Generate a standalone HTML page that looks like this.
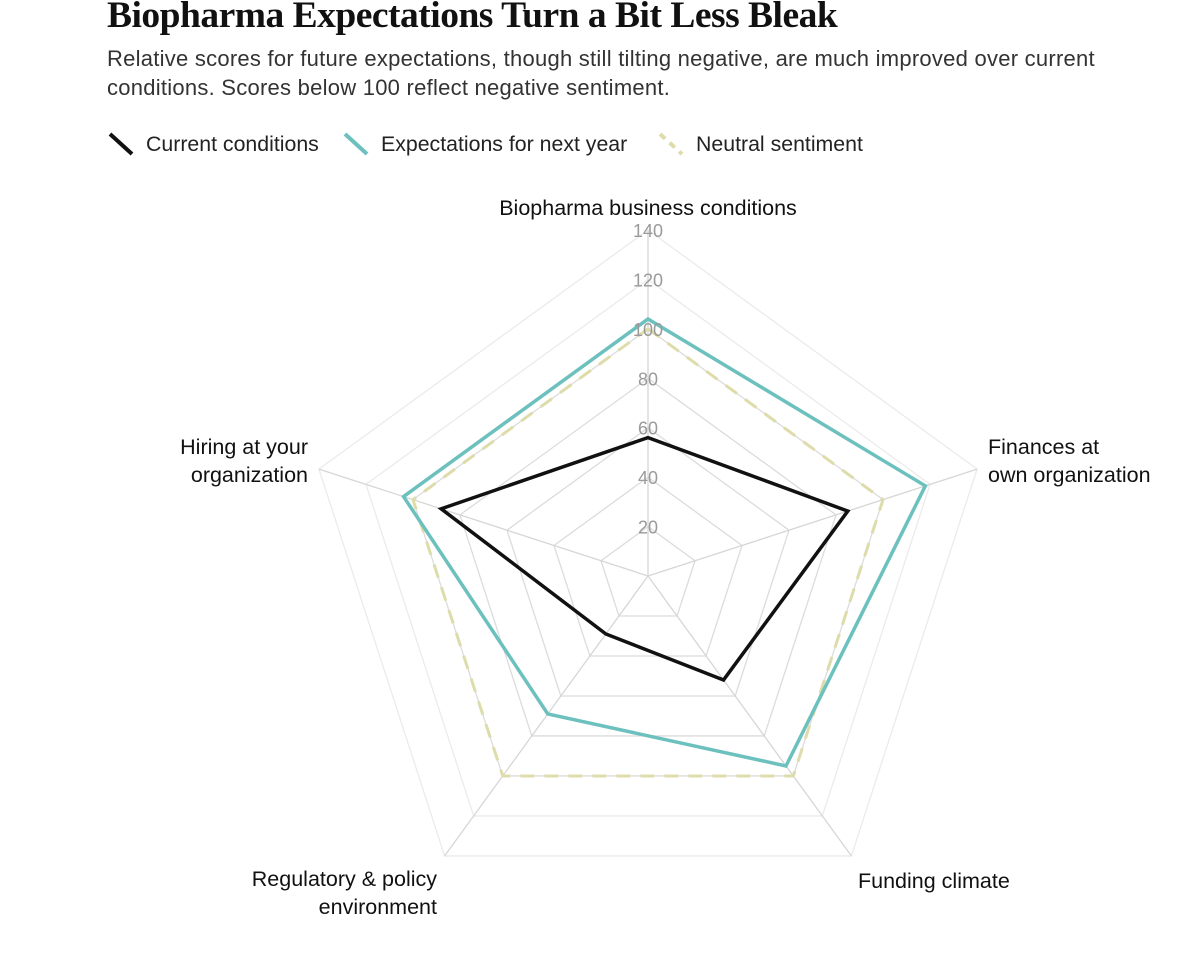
<!DOCTYPE html>
<html><head><meta charset="utf-8"><style>
body{margin:0;background:#fff;width:1200px;height:969px;overflow:hidden;font-family:"Liberation Sans",sans-serif;}
#title{position:absolute;left:107px;top:-6px;font-family:"Liberation Serif",serif;font-weight:bold;font-size:37.5px;color:#111;letter-spacing:-0.5px;margin:0;white-space:nowrap}
#sub{position:absolute;left:107px;top:44px;width:1060px;font-size:22px;letter-spacing:0.25px;line-height:29px;color:#333;margin:0}
</style></head><body>
<h1 id="title">Biopharma Expectations Turn a Bit Less Bleak</h1>
<p id="sub">Relative scores for future expectations, though still tilting negative, are much improved over current conditions. Scores below 100 reflect negative sentiment.</p>
<svg id="chart" width="1200" height="969" style="position:absolute;left:0;top:0"></svg>
<script>
const categories=["Biopharma business conditions","Finances at own organization","Funding climate","Regulatory & policy environment","Hiring at your organization"];
const currentValues=[56,85,52,29,88];
const expectValues=[104,118,95,69,104];
const neutralValues=[100,100,100,100,100];
const ticks=[20,40,60,80,100,120,140];
const cx=648,cy=576,R=346,maxV=140;
const svg=document.getElementById('chart');
const NS='http://www.w3.org/2000/svg';
function ang(i){return -Math.PI/2+i*2*Math.PI/categories.length;}
function pt(i,v){const r=v/maxV*R;return [cx+r*Math.cos(ang(i)),cy+r*Math.sin(ang(i))];}
function mk(tag,attrs,parent){const e=document.createElementNS(NS,tag);for(const k in attrs)e.setAttribute(k,attrs[k]);(parent||svg).appendChild(e);return e;}
const grid=mk('g',{});


ticks.forEach(t=>{const p=categories.map((c,i)=>pt(i,t).join(',')).join(' ');
 const g=mk('polygon',{points:p,fill:'none',stroke:t>=120?'#ebebeb':'#dcdcdc','stroke-width':1.3},grid);
 
 });
categories.forEach((c,i)=>{const [x,y]=pt(i,maxV);
 const l=mk('line',{x1:cx,y1:cy,x2:x,y2:y,stroke:'#d6d6d6','stroke-width':1.3},grid);
 
 });
function series(vals,color,w,dash,name){const p=vals.map((v,i)=>pt(i,v).join(',')).join(' ');
 const e=mk('polygon',{points:p,fill:'none',stroke:color,'stroke-width':w,'stroke-dasharray':dash||'none','stroke-linejoin':'miter'});
 
 }
series(neutralValues,'#dedcaa',3,'14 10','neutral-series');
series(expectValues,'#6cc0bd',3.5,null,'expectations-series');
series(currentValues,'#111',3.5,null,'current-series');
ticks.forEach(t=>{const y=cy-t/maxV*R;
 const e=mk('text',{x:cx,y:y+7,'text-anchor':'middle','font-size':18,fill:'#9a9a9a'});e.textContent=t;
 
 });
const labs=[{x:648,y:215,a:'middle',l:["Biopharma business conditions"]},
 {x:988,y:454,a:'start',l:["Finances at","own organization"]},
 {x:858,y:888,a:'start',l:["Funding climate"]},
 {x:437,y:886,a:'end',l:["Regulatory & policy","environment"]},
 {x:308,y:454,a:'end',l:["Hiring at your","organization"]}];
labs.forEach((L,i)=>{const t=mk('text',{x:L.x,y:L.y,'text-anchor':L.a,'font-size':21.5,fill:'#111'});
 
 
 L.l.forEach((s,j)=>{const ts=mk('tspan',{x:L.x,dy:j?28:0},t);ts.textContent=s;});});
const leg=[{x:110,c:'#111',d:null,t:'Current conditions',n:'legend-current'},{x:345,c:'#6cc0bd',d:null,t:'Expectations for next year',n:'legend-expectations'},{x:660,c:'#dedcaa',d:'7 6',t:'Neutral sentiment',n:'legend-neutral'}];
leg.forEach(L=>{const g=mk('g',{});
 
 
 mk('line',{x1:L.x,y1:134,x2:L.x+22,y2:154,stroke:L.c,'stroke-width':4,'stroke-dasharray':L.d||'none'},g);
 const t=mk('text',{x:L.x+36,y:151,'font-size':21.3,fill:'#222'},g);t.textContent=L.t;});
</script>
</body></html>
